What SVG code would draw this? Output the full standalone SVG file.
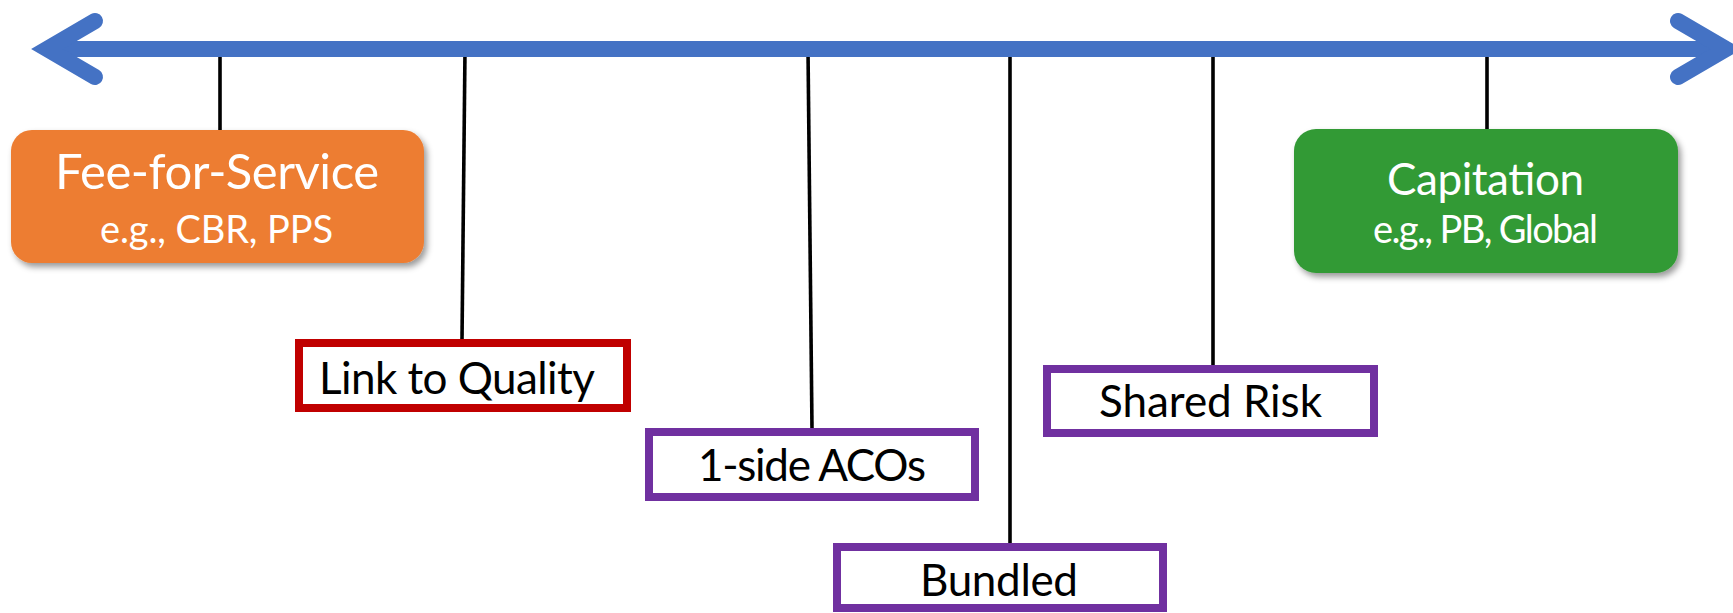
<svg xmlns="http://www.w3.org/2000/svg" width="1733" height="613" viewBox="0 0 1733 613">
<style>
.tick{stroke:#000;stroke-width:3.6;fill:none}
.axis{stroke:#4472C4;stroke-width:16;fill:none}
.head{stroke:#4472C4;stroke-width:16;fill:none;stroke-linecap:round;stroke-linejoin:miter;stroke-miterlimit:6}
.big{font-family:Lato,"Open Sans","Liberation Sans",sans-serif;fill:#fff;text-anchor:middle}
.lbl{font-family:Lato,"Open Sans","Liberation Sans",sans-serif;fill:#000;text-anchor:middle;font-size:44px}
.box{fill:#fff;stroke-width:8}
.red{stroke:#C00000}
.pur{stroke:#7030A0}
</style>
<defs>
<filter id="sh" x="-10%" y="-20%" width="125%" height="150%">
<feDropShadow dx="3" dy="4" stdDeviation="3" flood-color="#000" flood-opacity="0.4"/>
</filter>
</defs>
<g id="connectors">
<line class="tick" x1="220" y1="50" x2="220" y2="131"/>
<line class="tick" x1="465" y1="50" x2="462" y2="340"/>
<line class="tick" x1="808" y1="50" x2="812" y2="429"/>
<line class="tick" x1="1010" y1="50" x2="1010" y2="544"/>
<line class="tick" x1="1213" y1="50" x2="1213" y2="366"/>
<line class="tick" x1="1487" y1="50" x2="1487" y2="130"/>
<line class="axis" x1="47" y1="49" x2="1726" y2="49"/>
<polyline class="head" points="95,21 47,49 95,77"/>
<polyline class="head" points="1678,21 1726,49 1678,77"/>
</g>
<g id="fee-for-service">
<rect x="11" y="130" width="413" height="133" rx="21" fill="#ED7D31" filter="url(#sh)"/>
<text class="big" x="217" y="189" font-size="49" textLength="324">Fee-for-Service</text>
<text class="big" x="216.5" y="243" font-size="38" textLength="233">e.g., CBR, PPS</text>
</g>
<g id="capitation">
<rect x="1294" y="129" width="384" height="144" rx="22" fill="#339A35" filter="url(#sh)"/>
<text class="big" x="1485.5" y="195" font-size="44" textLength="197">Capitation</text>
<text class="big" x="1485.5" y="243" font-size="38" textLength="225">e.g., PB, Global</text>
</g>
<g id="link-to-quality">
<rect class="box red" x="299" y="343" width="328" height="65"/>
<text class="lbl" x="457" y="394" textLength="276">Link to Quality</text>
</g>
<g id="one-side-acos">
<rect class="box pur" x="649" y="432" width="326" height="65"/>
<text class="lbl" x="812" y="481" textLength="228">1-side ACOs</text>
</g>
<g id="bundled">
<rect class="box pur" x="837" y="547" width="326" height="61"/>
<text class="lbl" x="999" y="596" textLength="158">Bundled</text>
</g>
<g id="shared-risk">
<rect class="box pur" x="1047" y="369" width="327" height="64"/>
<text class="lbl" x="1210.5" y="417" textLength="223">Shared Risk</text>
</g>
</svg>
